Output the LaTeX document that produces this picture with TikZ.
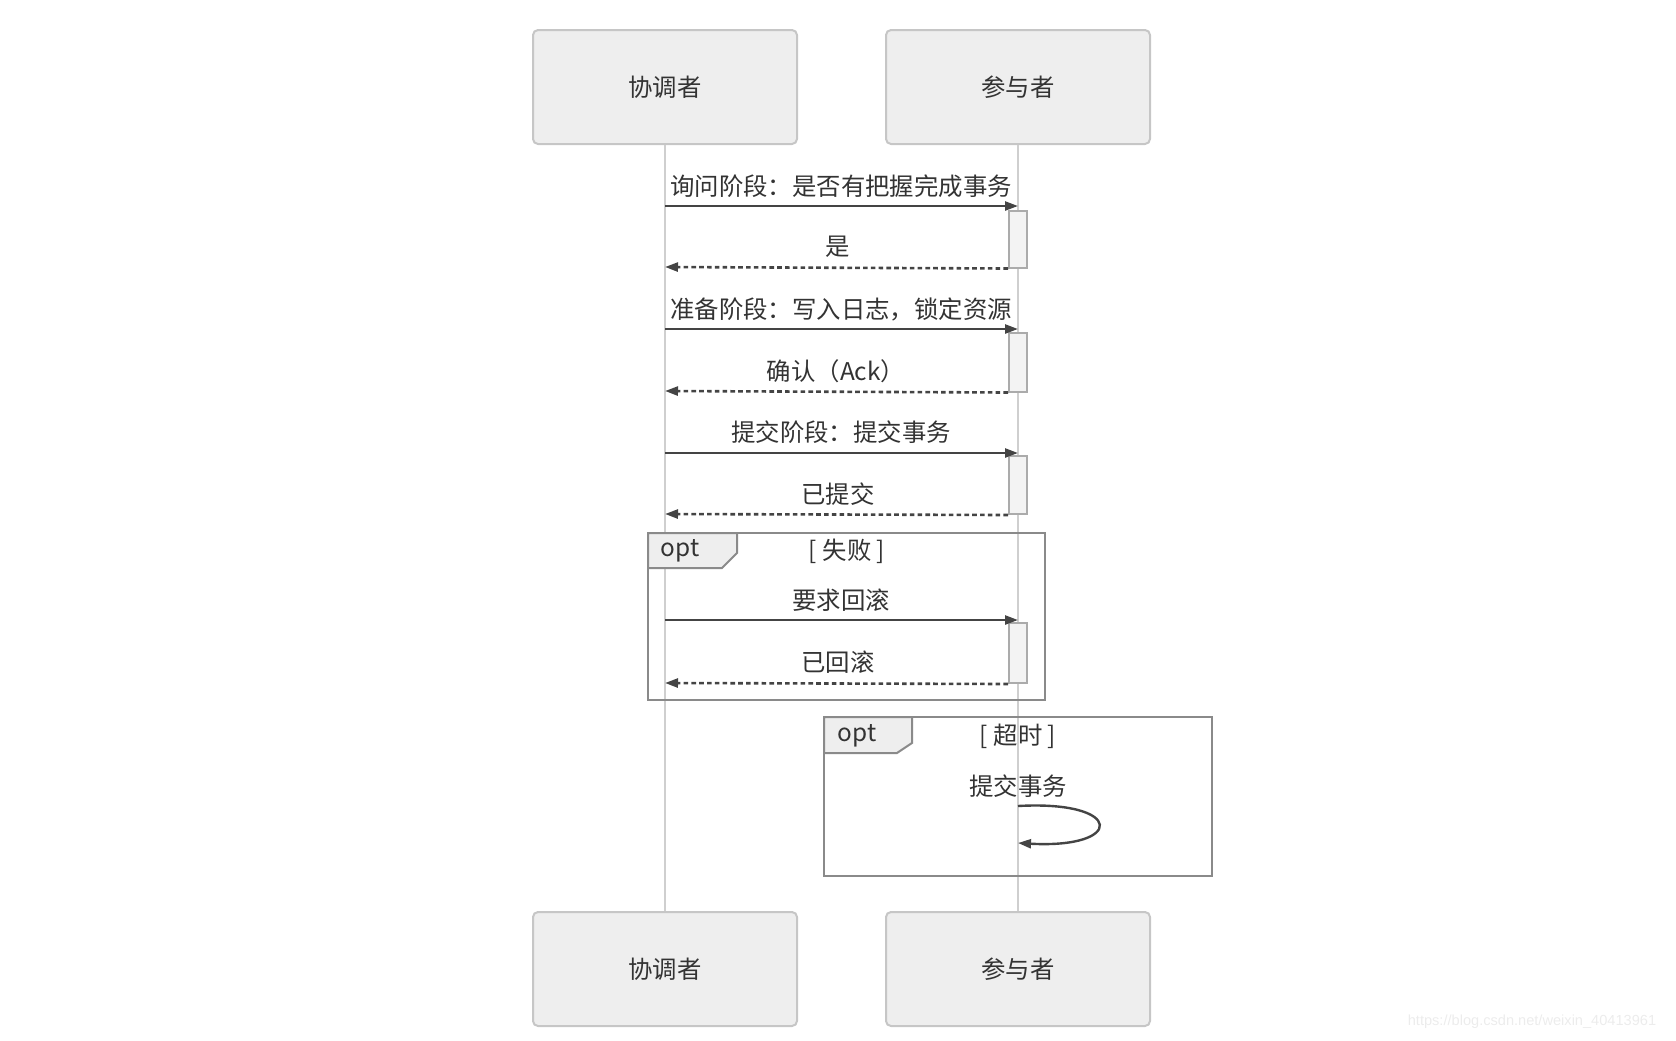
\documentclass[tikz,border=0pt]{standalone}
\usepackage{fontspec}
\setmainfont{Noto Sans CJK SC}
\newfontfamily\wmfont{Liberation Sans}
\usetikzlibrary{arrows.meta}

\definecolor{boxfill}{HTML}{EEEEEE}
\definecolor{boxline}{HTML}{C6C6C6}
\definecolor{lifecol}{HTML}{CFCFCF}
\definecolor{msgcol}{HTML}{444444}
\definecolor{actfill}{HTML}{F3F3F3}
\definecolor{actline}{HTML}{ABABAB}
\definecolor{framecol}{HTML}{8A8A8A}
\definecolor{txtcol}{HTML}{333333}
\definecolor{wmcol}{HTML}{ECECEC}

\tikzset{
	actor/.style={draw=boxline, fill=boxfill, line width=1pt, rounded corners=2.5pt,
		minimum width=132pt, minimum height=57pt, inner sep=0pt},
	lifeline/.style={draw=lifecol, line width=1pt},
	act/.style={draw=actline, fill=actfill, line width=1pt, minimum width=9pt, inner sep=0pt},
	call/.style={draw=msgcol, line width=1.2pt, -{Triangle[length=6.5pt,width=4.5pt]}},
	reply/.style={draw=msgcol, line width=1.3pt, dash pattern=on 2.3pt off 1.6pt, -{Triangle[length=6.5pt,width=4.5pt]}},
	lbl/.style={text=txtcol, inner sep=0pt},
	frame/.style={draw=framecol, line width=1.2pt},
	tab/.style={draw=framecol, fill=boxfill, line width=1pt}
}

\begin{document}
\begin{tikzpicture}[x=0.5pt, y=-0.5pt, font=\fontsize{12.2}{14}\selectfont]
	\useasboundingbox (0,0) rectangle (1676,1040);
	% participants
	\node[actor] (coTop) at (665,87) {\textcolor{txtcol}{协调者}};
	\node[actor] (paTop) at (1018,87) {\textcolor{txtcol}{参与者}};
	\node[actor] (coBot) at (665,969) {\textcolor{txtcol}{协调者}};
	\node[actor] (paBot) at (1018,969) {\textcolor{txtcol}{参与者}};
	\draw[lifeline] (coTop.south) -- (coBot.north);
	\draw[lifeline] (paTop.south) -- (paBot.north);

	% frames
	\draw[frame] (648,533) rectangle (1045,700);
	\draw[tab] (648,533) -- (737,533) -- (737,553) -- (722,568) -- (648,568) -- cycle;
	\node[lbl] (opt1) at (680,551) {opt};
	\node[lbl] (cond1) at (847,551) {[ 失败 ]};
	\draw[frame] (824,717) rectangle (1212,876);
	\draw[tab] (824,717) -- (912,717) -- (912,743) -- (897,753) -- (824,753) -- cycle;
	\node[lbl] (opt2) at (857,736) {opt};
	\node[lbl] (cond2) at (1018,736) {[ 超时 ]};

	% ask phase
	\coordinate (c1) at (665,206);
	\coordinate (p1) at (1018,206);
	\coordinate (r1) at (665,267);
	\node[act, minimum height=28.5pt] (a1) at (1018,239) {};
	\node[lbl] (m1) at (841,186) {询问阶段：是否有把握完成事务};
	\node[lbl] (m1r) at (838,247) {是};
	\draw[call] (c1) -- (p1);
	\draw[reply] (a1.south west) -- (r1);

	% prepare phase
	\coordinate (c2) at (665,329);
	\coordinate (p2) at (1018,329);
	\coordinate (r2) at (665,391);
	\node[act, minimum height=29.5pt] (a2) at (1018,362) {};
	\node[lbl] (m2) at (841,309) {准备阶段：写入日志，锁定资源};
	\node[lbl] (m2r) at (836,371) {确认（Ack）};
	\draw[call] (c2) -- (p2);
	\draw[reply] (a2.south west) -- (r2);

	% commit phase
	\coordinate (c3) at (665,453);
	\coordinate (p3) at (1018,453);
	\coordinate (r3) at (665,514);
	\node[act, minimum height=29pt] (a3) at (1018,485) {};
	\node[lbl] (m3) at (841,432) {提交阶段：提交事务};
	\node[lbl] (m3r) at (838,494) {已提交};
	\draw[call] (c3) -- (p3);
	\draw[reply] (a3.south west) -- (r3);

	% rollback
	\coordinate (c4) at (665,620);
	\coordinate (p4) at (1018,620);
	\coordinate (r4) at (665,683);
	\node[act, minimum height=30pt] (a4) at (1018,653) {};
	\node[lbl] (m4) at (841,600) {要求回滚};
	\node[lbl] (m4r) at (838,662) {已回滚};
	\draw[call] (c4) -- (p4);
	\draw[reply] (a4.south west) -- (r4);

	% timeout, self call
	\coordinate (s1) at (1018,806);
	\coordinate (s2) at (1018,843);
	\node[lbl] (m5) at (1018,786) {提交事务};
	\draw[call] (s1) .. controls (1125,800) and (1125,849) .. (s2);

	\node[text=wmcol, inner sep=0pt, font=\wmfont\fontsize{7.3}{9}\selectfont] (wm) at (1532,1022) {https://blog.csdn.net/weixin\_40413961};
\end{tikzpicture}
\end{document}
